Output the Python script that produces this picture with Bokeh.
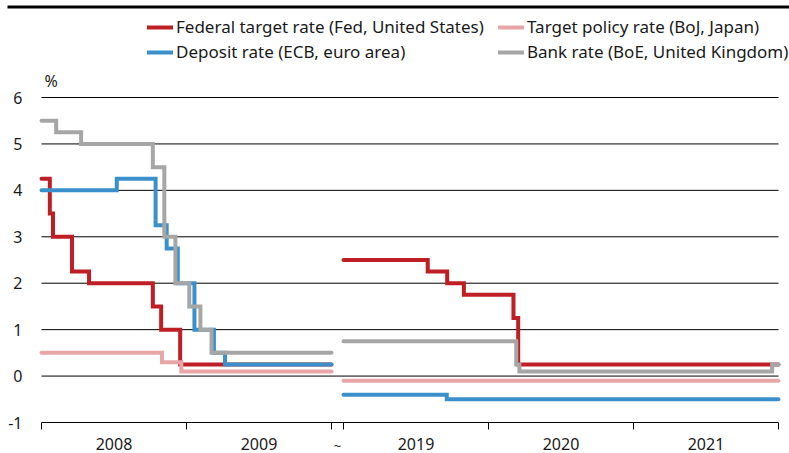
import pandas as pd
from bokeh.plotting import figure
from bokeh.models import Range1d, Legend, LegendItem, Label, BoxAnnotation
from bokeh.core.properties import value
from bokeh.embed import file_html
from bokeh.resources import INLINE

# ---------------- data ----------------
period_starts = ["2008-01-01", "2019-01-01"]
period_ends = ["2010-01-01", "2022-01-01"]
year_starts = ["2008-01-01", "2009-01-01", "2010-01-01",
               "2019-01-01", "2020-01-01", "2021-01-01", "2022-01-01"]
year_labels = ["2008", "2009", "2019", "2020", "2021"]
break_label = "~"

fed_dates_1 = ["2008-01-01", "2008-01-22", "2008-01-30", "2008-03-18", "2008-04-30",
               "2008-10-08", "2008-10-29", "2008-12-16"]
fed_rates_1 = [4.25, 3.5, 3.0, 2.25, 2.0, 1.5, 1.0, 0.25]
fed_dates_2 = ["2019-01-01", "2019-08-01", "2019-09-19", "2019-10-31", "2020-03-04", "2020-03-16"]
fed_rates_2 = [2.5, 2.25, 2.0, 1.75, 1.25, 0.25]

boj_dates_1 = ["2008-01-01", "2008-10-31", "2008-12-19"]
boj_rates_1 = [0.5, 0.3, 0.1]
boj_dates_2 = ["2019-01-01"]
boj_rates_2 = [-0.1]

ecb_dates_1 = ["2008-01-01", "2008-07-09", "2008-10-15", "2008-11-12", "2008-12-10",
               "2009-01-21", "2009-03-11", "2009-04-08"]
ecb_rates_1 = [4.0, 4.25, 3.25, 2.75, 2.0, 1.0, 0.5, 0.25]
ecb_dates_2 = ["2019-01-01", "2019-09-18"]
ecb_rates_2 = [-0.4, -0.5]

boe_dates_1 = ["2008-01-01", "2008-02-07", "2008-04-10", "2008-10-08", "2008-11-06",
               "2008-12-04", "2009-01-08", "2009-02-05", "2009-03-05"]
boe_rates_1 = [5.5, 5.25, 5.0, 4.5, 3.0, 2.0, 1.5, 1.0, 0.5]
boe_dates_2 = ["2019-01-01", "2020-03-11", "2020-03-19", "2021-12-16"]
boe_rates_2 = [0.75, 0.25, 0.1, 0.25]

y_ticks = [-1, 0, 1, 2, 3, 4, 5, 6]
y_unit = "%"

names = ["Federal target rate (Fed, United States)", "Target policy rate (BoJ, Japan)",
         "Deposit rate (ECB, euro area)", "Bank rate (BoE, United Kingdom)"]
colors = ["#BE1E24", "#E8A6A8", "#3A90CB", "#A6A6A6"]

# ---------------- axis mapping (broken time axis) ----------------
GAP = 12 / 145.0


def xpos(d):
    ts = pd.Timestamp(d)
    days = 366 if ts.is_leap_year else 365
    frac = ts.year + (ts.dayofyear - 1) / days
    if ts.year < 2015:
        return frac - 2008
    return frac - 2019 + 2 + GAP


def steps(dates, rates, end):
    xs, ys = [], []
    for i, r in enumerate(rates):
        x0 = xpos(dates[i])
        x1 = xpos(dates[i + 1]) if i + 1 < len(dates) else xpos(end)
        xs += [x0, x1]
        ys += [r, r]
    return xs, ys


def series(d1, r1, d2, r2):
    x1, y1 = steps(d1, r1, period_ends[0])
    x2, y2 = steps(d2, r2, period_ends[1])
    return x1 + [float("nan")] + x2, y1 + [float("nan")] + y2


all_series = [
    series(fed_dates_1, fed_rates_1, fed_dates_2, fed_rates_2),
    series(boj_dates_1, boj_rates_1, boj_dates_2, boj_rates_2),
    series(ecb_dates_1, ecb_rates_1, ecb_dates_2, ecb_rates_2),
    series(boe_dates_1, boe_rates_1, boe_dates_2, boe_rates_2),
]

# ---------------- layout (pixels) ----------------
FONT = "Noto Sans"
W, H = 789, 453
PL, PR = 41, 778          # plot area left/right (canvas px)
PT, PB = 97, 422          # y=6 and y=-1 (canvas px)

x0, x1 = xpos(period_starts[0]), xpos(period_ends[1])
kx = (PR - PL) / (x1 - x0)
ky = (PB - PT) / (max(y_ticks) - min(y_ticks))
ymin = min(y_ticks)
xr = Range1d(x0 - PL / kx, x1 + (W - PR) / kx)
yr = Range1d(ymin - (H - PB) / ky, max(y_ticks) + PT / ky)

p = figure(width=W, height=H, output_backend="svg", toolbar_location=None,
           x_range=xr, y_range=yr,
           min_border_left=0, min_border_right=0, min_border_top=0, min_border_bottom=0,
           x_axis_location=None, y_axis_location=None)
p.outline_line_color = None
p.background_fill_color = "white"
p.border_fill_color = "white"
p.grid.visible = False

# horizontal gridlines (the line at -1 doubles as the x axis line)
p.segment(x0=[x0] * len(y_ticks), y0=y_ticks, x1=[x1] * len(y_ticks), y1=y_ticks,
          line_color="black", line_width=1)

# x axis ticks and labels (broken axis)
bounds = [xpos(d) for d in year_starts]
p.segment(x0=bounds, y0=[ymin] * len(bounds), x1=bounds,
          y1=[ymin - 7 / ky] * len(bounds), line_color="black", line_width=1)
centers = [(bounds[i] + bounds[i + 1]) / 2 for i in (0, 1, 3, 4, 5)]
tilde_x = (bounds[2] + bounds[3]) / 2
p.text(x=centers, y=[ymin - 21 / ky] * len(centers), text=year_labels,
       text_font=value(FONT), text_font_size="16px", text_color="#1a1a1a",
       text_align="center", text_baseline="middle")
p.text(x=[tilde_x], y=[ymin - 23 / ky], text=[break_label],
       text_font=value(FONT), text_font_size="13px", text_color="#1a1a1a",
       text_align="center", text_baseline="middle")

# y tick labels
p.text(x=[x0 - 19 / kx] * len(y_ticks), y=y_ticks, text=[str(t) for t in y_ticks],
       text_font=value(FONT), text_font_size="16px", text_color="#1a1a1a",
       text_align="right", text_baseline="middle")
p.add_layout(Label(x=x0 + 3 / kx, y=max(y_ticks) + 17 / ky, text=y_unit,
                   text_font=FONT, text_font_size="16px", text_color="#1a1a1a",
                   text_baseline="middle"))

renderers = []
for (xs, ys), c in zip(all_series, colors):
    r = p.line(xs, ys, line_color=c, line_width=4, line_join="miter", line_cap="round")
    renderers.append(r)


def make_legend(items, x, y):
    lg = Legend(items=items, location=(x, y), orientation="vertical")
    lg.glyph_width = 26
    lg.glyph_height = 20
    lg.label_height = 20
    lg.label_standoff = 3
    lg.spacing = 2
    lg.padding = 0
    lg.margin = 0
    lg.border_line_color = None
    lg.background_fill_alpha = 0
    lg.label_text_font = FONT
    lg.label_text_font_size = "17px"
    lg.label_text_color = "#1a1a1a"
    return lg


LEG_BOTTOM = H - 63
leg1 = make_legend([LegendItem(label=names[0], renderers=[renderers[0]]),
                    LegendItem(label=names[2], renderers=[renderers[2]])], 147, LEG_BOTTOM)
leg2 = make_legend([LegendItem(label=names[1], renderers=[renderers[1]]),
                    LegendItem(label=names[3], renderers=[renderers[3]])], 498, LEG_BOTTOM)
p.add_layout(leg1, "center")
p.add_layout(leg2, "center")

# top rule
p.add_layout(BoxAnnotation(left=x0 - 34 / kx, bottom=yr.end - 8 / ky, top=yr.end - 5 / ky,
                           fill_color="black", fill_alpha=1, line_color=None))

open("out.html", "w").write(file_html(p, INLINE))
